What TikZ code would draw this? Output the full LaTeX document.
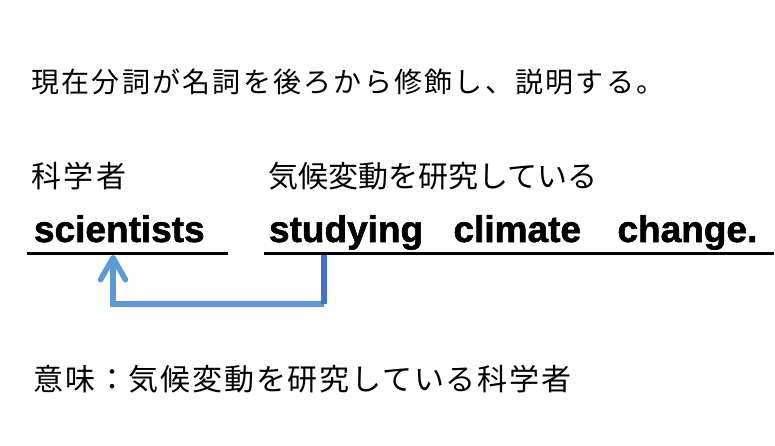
\documentclass[tikz,border=0pt]{standalone}
\usepackage{fontspec}
\setmainfont{Liberation Sans}[BoldFeatures={FakeBold=1.5}]
\newfontfamily\jptop[LetterSpace=8]{Noto Sans CJK JP}
\newfontfamily\jpmid{Noto Sans CJK JP}
\newfontfamily\jpsci[LetterSpace=8]{Noto Sans CJK JP}
\newfontfamily\jpbot[LetterSpace=6]{Noto Sans CJK JP}
\usetikzlibrary{arrows.meta}
\definecolor{darkblue}{HTML}{4472C4}
\definecolor{lightblue}{HTML}{5B9BD5}
\tikzset{
  txt/.style={anchor=base west, inner sep=0pt, outer sep=0pt, text=black},
  jtop/.style={txt, font=\jptop\fontsize{28}{34}\selectfont},
  jmid/.style={txt, font=\jpmid\fontsize{30}{36}\selectfont},
  jsci/.style={txt, font=\jpsci\fontsize{30}{36}\selectfont},
  jbot/.style={txt, font=\jpbot\fontsize{30}{36}\selectfont},
  eng/.style={txt, font=\bfseries\fontsize{37}{44}\selectfont},
  uline/.style={draw=black, line width=2.2pt},
  darkarrow/.style={draw=darkblue, line width=5.5pt},
  lightarrow/.style={draw=lightblue, line width=5.5pt, line join=miter,
    -{Straight Barb[length=22pt, width=25pt, round]}},
}
\begin{document}
\begin{tikzpicture}[x=1pt, y=-1pt]
  \useasboundingbox (0,0) rectangle (775,446);
  % texts
  \node[jtop] (title) at (31.5,93) {現在分詞が名詞を後ろから修飾し、説明する。};
  \node[jsci] (jsci) at (31.5,188) {科学者};
  \node[jmid] (jstudy) at (268.5,188) {気候変動を研究している};
  \node[eng] (sci) at (34,242) {scientists};
  \node[eng] (stu) at (269,242) {studying};
  \node[eng] (cli) at (453.5,242) {climate};
  \node[eng] (cha) at (617.5,242) {change.};
  \node[jbot] (mean) at (33.5,390) {意味：気候変動を研究している科学者};
  % underlines
  \coordinate (u1s) at (27,253.5);
  \coordinate (u1e) at (228,253.5);
  \coordinate (u2s) at (264,253.5);
  \coordinate (u2e) at (774,253.5);
  \draw[uline] (u1s) -- (u1e);
  \draw[uline] (u2s) -- (u2e);
  % arrow
  \coordinate (src) at (324,254.5);
  \coordinate (bend) at (324,304);
  \coordinate (tgt) at (113,255);
  \draw[lightarrow] (bend) -| (tgt);
  \draw[darkarrow] (src) -- (bend);
\end{tikzpicture}
\end{document}
